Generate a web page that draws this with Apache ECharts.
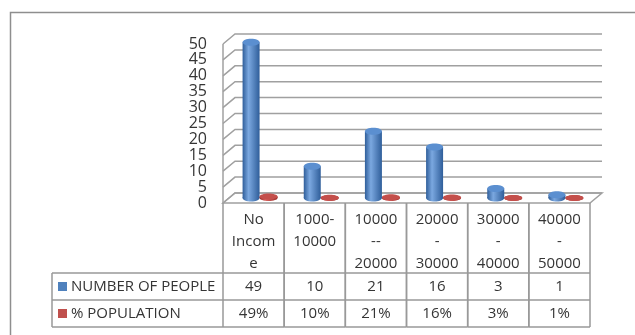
<!DOCTYPE html>
<html>
<head>
<meta charset="utf-8" />
<title>income groups</title>
<script src="https://cdn.jsdelivr.net/npm/echarts@6/dist/echarts.min.js"></script>
</head>
<body style="margin:0;background:#fff">
<div id="container" style="width:635px;height:335px;"></div>
<script>
// data
var categories = ['No\nIncom\ne', '1000-\n10000', '10000\n--\n20000', '20000\n-\n30000', '30000\n-\n40000', '40000\n-\n50000'];
var people = [49, 10, 21, 16, 3, 1];
var population = [49, 10, 21, 16, 3, 1]; // percent
var rowNames = ['NUMBER OF PEOPLE', '% POPULATION'];
var yMax = 50, yStep = 5;

// fake 3d depth (back wall offset, bars sit half way)
var DX = 12, DY = -10;
var MX = 6, MY = -5;
var FONT = 'Open Sans';
var TXT = '#353535';
var LINE = '#a0a0a0';

var yTicks = [];
for (var v = 0; v <= yMax; v += yStep) yTicks.push(v);

var myChart = echarts.init(document.getElementById('container'));

function renderWalls(params, api) {
  var cs = params.coordSys;
  var x0 = cs.x, x1 = cs.x + cs.width;
  var yBot = api.coord([0, 0])[1], yTop = api.coord([0, yMax])[1];
  var children = [];
  // floor
  children.push({ type: 'polygon', shape: { points: [[x0, yBot], [x0 + DX, yBot + DY], [x1 + DX, yBot + DY], [x1, yBot]] },
    style: { fill: '#fff', stroke: LINE, lineWidth: 1.5 } });
  yTicks.forEach(function (t) {
    var y = api.coord([0, t])[1];
    children.push({ type: 'polyline', shape: { points: [[x0, y], [x0 + DX, y + DY], [x1 + DX, y + DY]] },
      style: { stroke: LINE, lineWidth: 1.5, fill: null } });
  });
  children.push({ type: 'line', shape: { x1: x0, y1: yTop, x2: x0, y2: yBot }, style: { stroke: LINE, lineWidth: 1.5 } });
  return { type: 'group', children: children };
}

function cylinder(dark, light, topColor, offset, w, ry) {
  return function (params, api) {
    var idx = api.value(0), val = api.value(1);
    var base = api.coord([idx, 0]), top = api.coord([idx, val]);
    var cx = base[0] + MX + offset;
    var yb = base[1] + MY, yt = top[1] + MY;
    var grad = new echarts.graphic.LinearGradient(0, 0, 1, 0, [
      { offset: 0, color: dark }, { offset: 0.35, color: light }, { offset: 1, color: dark }
    ]);
    return { type: 'group', children: [
      { type: 'ellipse', shape: { cx: cx, cy: yb, rx: w / 2, ry: ry }, style: { fill: grad } },
      { type: 'rect', shape: { x: cx - w / 2, y: yt, width: w, height: Math.max(yb - yt, 0) }, style: { fill: grad } },
      { type: 'ellipse', shape: { cx: cx, cy: yt, rx: w / 2, ry: ry }, style: { fill: topColor } }
    ] };
  };
}

var HEAD_H = 70, ROW_H = 27, LEG_X = 52;

function renderTable(params, api) {
  var idx = api.value(0);
  var c = api.coord([idx, 0]);
  var bw = api.size([1, 0])[0];
  var xl = c[0] - bw / 2, xr = c[0] + bw / 2;
  var y0 = c[1], y1 = y0 + HEAD_H, y2 = y1 + ROW_H, y3 = y2 + ROW_H;
  var ls = { stroke: '#999', lineWidth: 1.5 };
  var ts = function (text, x, y, va) {
    return { type: 'text', x: x, y: y, style: { text: text, fill: TXT, font: '15px "' + FONT + '"',
      align: 'center', verticalAlign: va || 'middle', lineHeight: 22 } };
  };
  var ch = [
    { type: 'line', shape: { x1: xl, y1: y0, x2: xl, y2: y3 }, style: ls },
    { type: 'line', shape: { x1: xr, y1: y0, x2: xr, y2: y3 }, style: ls },
    { type: 'line', shape: { x1: xl, y1: y1, x2: xr, y2: y1 }, style: ls },
    { type: 'line', shape: { x1: xl, y1: y2, x2: xr, y2: y2 }, style: ls },
    { type: 'line', shape: { x1: xl, y1: y3, x2: xr, y2: y3 }, style: ls },
    ts(categories[idx], c[0], y0 + 6, 'top'),
    ts(String(people[idx]), c[0], (y1 + y2) / 2),
    ts(population[idx] + '%', c[0], (y2 + y3) / 2)
  ];
  if (idx === 0) {
    ch.push({ type: 'line', shape: { x1: LEG_X, y1: y1, x2: xl, y2: y1 }, style: ls });
    ch.push({ type: 'line', shape: { x1: LEG_X, y1: y2, x2: xl, y2: y2 }, style: ls });
    ch.push({ type: 'line', shape: { x1: LEG_X, y1: y3, x2: xl, y2: y3 }, style: ls });
    ch.push({ type: 'line', shape: { x1: LEG_X, y1: y1, x2: LEG_X, y2: y3 }, style: ls });
    [['#4f81bd', rowNames[0], (y1 + y2) / 2], ['#c0504d', rowNames[1], (y2 + y3) / 2]].forEach(function (r) {
      ch.push({ type: 'rect', shape: { x: LEG_X + 6, y: r[2] - 4.5, width: 9, height: 9 }, style: { fill: r[0] } });
      ch.push({ type: 'text', x: LEG_X + 19, y: r[2], style: { text: r[1], fill: TXT, font: '15px "' + FONT + '"',
        align: 'left', verticalAlign: 'middle' } });
    });
  }
  return { type: 'group', children: ch };
}

var option = {
  animation: false,
  grid: { left: 223, right: 45, top: 44, bottom: 132 },
  xAxis: { type: 'category', data: categories, show: false },
  yAxis: {
    type: 'value', min: 0, max: yMax, interval: yStep,
    axisLine: { show: false }, axisTick: { show: false }, splitLine: { show: false },
    axisLabel: { color: TXT, fontSize: 16, fontFamily: FONT, margin: 16 }
  },
  graphic: [
    { type: 'rect', left: 8, top: 10, shape: { width: 700, height: 400 }, style: { fill: null, stroke: '#8e8e8e', lineWidth: 1.5 } }
  ],
  series: [
    { type: 'custom', renderItem: renderWalls, data: [[0, 0]], silent: true, z: 1 },
    { type: 'custom', name: rowNames[0], renderItem: cylinder('#2f5e9a', '#7ba8e0', '#5b8fd0', -8.5, 17, 3.5),
      data: people.map(function (v, i) { return [i, v]; }), z: 3 },
    { type: 'custom', name: rowNames[1], renderItem: cylinder('#9a2e2b', '#d8625e', '#c44f4b', 9, 18, 3),
      data: population.map(function (v, i) { return [i, v / 100]; }), z: 3 },
    { type: 'custom', renderItem: renderTable, data: categories.map(function (c, i) { return [i, 0]; }), silent: true, z: 2 }
  ]
};
myChart.setOption(option);
window.addEventListener('resize', myChart.resize);
</script>
</body>
</html>
